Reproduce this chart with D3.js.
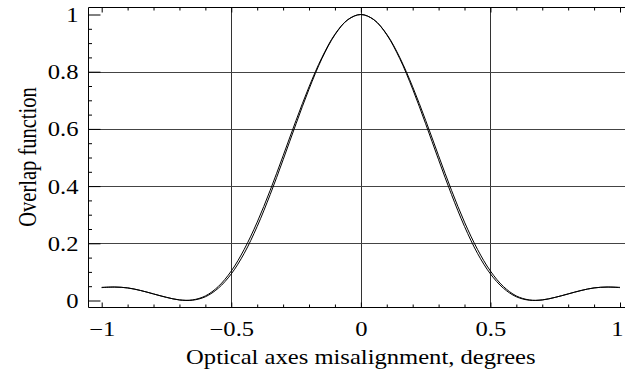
<!DOCTYPE html>
<html>
<head>
<meta charset="utf-8">
<script src="https://cdn.jsdelivr.net/npm/d3@7"></script>
<style>
  html, body { margin: 0; padding: 0; background: #fff; }
  svg { display: block; }
</style>
</head>
<body>
<div id="graph"></div>
<script>
// misalignment angle (degrees), sampled every 0.05
var xs = [-1,-0.95,-0.9,-0.85,-0.8,-0.75,-0.7,-0.65,-0.6,-0.55,-0.5,-0.45,-0.4,-0.35,-0.3,-0.25,-0.2,-0.15,-0.1,-0.05,
          0,0.05,0.1,0.15,0.2,0.25,0.3,0.35,0.4,0.45,0.5,0.55,0.6,0.65,0.7,0.75,0.8,0.85,0.9,0.95,1];
// inner curve
var overlapA = [0.046,0.047,0.044,0.035,0.023,0.011,0.002,0.001,0.013,0.043,0.093,0.165,0.259,0.370,0.492,0.618,0.739,0.846,0.929,0.982,
                1,0.982,0.929,0.846,0.739,0.618,0.492,0.370,0.259,0.165,0.093,0.043,0.013,0.001,0.002,0.011,0.023,0.035,0.044,0.047,0.046];
// outer (slightly wider) curve
var overlapB = [0.045,0.047,0.044,0.035,0.023,0.011,0.002,0.002,0.016,0.049,0.103,0.179,0.274,0.385,0.506,0.630,0.747,0.850,0.931,0.982,
                1,0.982,0.931,0.850,0.747,0.630,0.506,0.385,0.274,0.179,0.103,0.049,0.016,0.002,0.002,0.011,0.023,0.035,0.044,0.047,0.045];

var xMajor = [-1,-0.5,0,0.5,1];
var xMajorLabels = ["\u22121","\u22120.5","0","0.5","1"];
var xMinor = [-0.9,-0.8,-0.7,-0.6,-0.4,-0.3,-0.2,-0.1,0.1,0.2,0.3,0.4,0.6,0.7,0.8,0.9];
var yMajor = [0,0.2,0.4,0.6,0.8,1];
var yMajorLabels = ["0","0.2","0.4","0.6","0.8","1"];
var yMinor = [0.05,0.1,0.15,0.25,0.3,0.35,0.45,0.5,0.55,0.65,0.7,0.75,0.85,0.9,0.95];
var xGrid = [-0.5,0,0.5];
var yGrid = [0.2,0.4,0.6,0.8];

var svgWidth = 625;
var svgHeight = 373;
var fontFam = "'Liberation Serif', 'Times New Roman', serif";
var fontSize = 20.5;
var stretch = 1.2;   // text in the reference is stretched sideways

var x = d3.scaleLinear().domain([-1,1]).range([101.7,620]);
var y = d3.scaleLinear().domain([0,1]).range([300.5,14.5]);

// plot frame padding (data units)
var xLo = -1.052, xHi = 1.052, yLo = -0.0217, yHi = 1.026;

var $svg = d3.select("#graph")
    .append("svg")
    .attr("width", svgWidth)
    .attr("height", svgHeight);

// grid
$svg.append("g").selectAll("line").data(xGrid).join("line")
    .attr("x1", d=>Math.round(x(d))+0.5).attr("x2", d=>Math.round(x(d))+0.5)
    .attr("y1", y(yLo)).attr("y2", y(yHi))
    .attr("stroke", "#333").attr("stroke-width", 1);
$svg.append("g").selectAll("line").data(yGrid).join("line")
    .attr("x1", x(xLo)).attr("x2", x(xHi))
    .attr("y1", d=>Math.round(y(d))+0.5).attr("y2", d=>Math.round(y(d))+0.5)
    .attr("stroke", "#444").attr("stroke-width", 1);

// curves
var line = d3.line()
    .x((d,i)=>x(xs[i]))
    .y(d=>y(d))
    .curve(d3.curveCatmullRom.alpha(0.5));

[overlapA, overlapB].forEach(s=>{
    $svg.append("path")
        .attr("d", line(s))
        .attr("fill", "none")
        .attr("stroke", "#000")
        .attr("stroke-width", 1);
});

// axes (ticks point inward)
var bottomY = Math.round(y(yLo))+0.5;
var topY = Math.round(y(yHi))+0.5;
var leftX = Math.round(x(xLo))+0.5;

function styleAxis(g){
    g.select(".domain").remove();
    g.selectAll("line").attr("stroke", "#000");
}

$svg.append("g").attr("transform", `translate(0,${bottomY})`)
    .call(d3.axisBottom(x).tickValues(xMinor).tickSize(-3).tickFormat(""))
    .call(styleAxis);
$svg.append("g").attr("transform", `translate(0,${bottomY})`)
    .call(d3.axisBottom(x).tickValues(xMajor).tickSize(-5)
        .tickFormat((d,i)=>xMajorLabels[i]).tickPadding(0))
    .call(styleAxis)
    .call(g=>g.selectAll("text")
        .attr("y", 28.5).attr("dy", null)
        .attr("x", d=>d===1 ? -3/stretch : 0)
        .attr("transform", `scale(${stretch},1)`)
        .attr("fill", "#000")
        .style("font-family", fontFam).style("font-size", fontSize+"px"));

$svg.append("g").attr("transform", `translate(0,${topY})`)
    .call(d3.axisTop(x).tickValues(xMinor).tickSize(-3).tickFormat(""))
    .call(styleAxis);
$svg.append("g").attr("transform", `translate(0,${topY})`)
    .call(d3.axisTop(x).tickValues(xMajor).tickSize(-5).tickFormat(""))
    .call(styleAxis);

$svg.append("g").attr("transform", `translate(${leftX},0)`)
    .call(d3.axisLeft(y).tickValues(yMinor).tickSize(-3.5).tickFormat(""))
    .call(styleAxis);
$svg.append("g").attr("transform", `translate(${leftX},0)`)
    .call(d3.axisLeft(y).tickValues(yMajor).tickSize(-12)
        .tickFormat((d,i)=>yMajorLabels[i]))
    .call(styleAxis)
    .call(g=>g.selectAll("text")
        .attr("x", -10/stretch).attr("dy", "0.34em")
        .attr("transform", `scale(${stretch},1)`)
        .attr("fill", "#000")
        .style("font-family", fontFam).style("font-size", fontSize+"px"));

// frame: left and top edges, bottom axis line
$svg.append("path")
    .attr("d", `M${leftX},${bottomY} L${leftX},${topY} L${svgWidth},${topY}`)
    .attr("fill", "none").attr("stroke", "#000").attr("stroke-width", 1);
$svg.append("line")
    .attr("x1", leftX).attr("x2", svgWidth)
    .attr("y1", bottomY).attr("y2", bottomY)
    .attr("stroke", "#000").attr("stroke-width", 1);

// axis titles
$svg.append("text")
    .attr("transform", `translate(${x(0)},364) scale(${stretch},1)`)
    .attr("text-anchor", "middle")
    .style("font-family", fontFam).style("font-size", fontSize+"px")
    .text("Optical axes misalignment, degrees");

$svg.append("text")
    .attr("transform", `translate(36,157) scale(${stretch},1) rotate(-90)`)
    .attr("text-anchor", "middle")
    .style("font-family", fontFam).style("font-size", fontSize+"px")
    .text("Overlap function");
</script>
</body>
</html>
